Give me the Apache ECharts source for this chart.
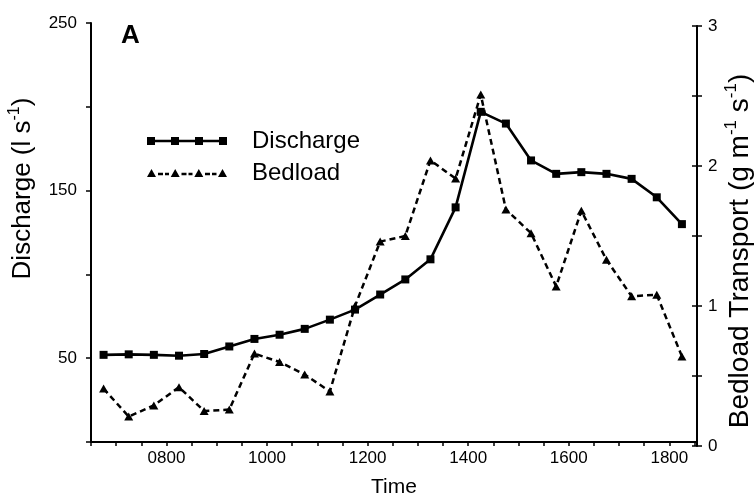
<!DOCTYPE html>
<html><head><meta charset="utf-8">
<script src="https://cdn.jsdelivr.net/npm/echarts@6/dist/echarts.min.js"></script>
<style>html,body{margin:0;padding:0;background:#fff}#c{width:756px;height:499px}</style>
</head><body><div id="c"></div>
<script>
const times = ['0645','0715','0745','0815','0845','0915','0945','1015','1045','1115','1145','1215',
               '1245','1315','1345','1415','1445','1515','1545','1615','1645','1715','1745','1815'];
const discharge = [52, 52.3, 52, 51.5, 52.5, 57, 61.5, 64, 67.5, 73, 79, 88,
                   97, 109, 140, 197, 190, 168, 160, 161, 160, 157, 146, 130];
const bedload = [0.41, 0.21, 0.29, 0.42, 0.25, 0.26, 0.66, 0.60, 0.51, 0.39, 1.00, 1.46,
                 1.50, 2.04, 1.91, 2.51, 1.69, 1.52, 1.14, 1.68, 1.33, 1.07, 1.08, 0.64];
const xTickLabels = ['0800','1000','1200','1400','1600','1800'];
const leftTickLabels = ['50','150','250'];
const rightTickLabels = ['0','1','2','3'];

const FONT = '"Liberation Sans", Arial, Helvetica, sans-serif';
function toHours(t){ return parseInt(t.slice(0,2),10) + parseInt(t.slice(2),10)/60; }
function hhmm(v){ const h=Math.floor(v+1e-6), m=Math.round((v-h)*60); return String(h).padStart(2,'0')+String(m).padStart(2,'0'); }

const dischargeIcon = 'path://M0,2.75H80V5.25H0Z M0,0H8V8H0Z M24,0H32V8H24Z M48,0H56V8H48Z M72,0H80V8H72Z';
const bedloadIcon = 'path://M0,8L4.5,0L9,8Z M23.7,8L28.2,0L32.7,8Z M47.3,8L51.8,0L56.3,8Z M71,8L75.5,0L80,8Z ' +
  'M11,3.75H16V6.25H11Z M18,3.75H22V6.25H18Z M34.5,3.75H39.5V6.25H34.5Z M41.5,3.75H45.5V6.25H41.5Z M58,3.75H63V6.25H58Z M65,3.75H69.5V6.25H65Z';

const chart = echarts.init(document.getElementById('c'), null, {renderer:'canvas'});
const xMin = 6.5, xMax = 18.55;
const axisCommon = {
  axisLine:{show:true, lineStyle:{color:'#000', width:2}},
  splitLine:{show:false},
  nameMoveOverlap:false
};
chart.setOption({
  animation:false,
  backgroundColor:'#fff',
  textStyle:{fontFamily:FONT, color:'#000'},
  grid:[
    {left:91, right:59, top:23, bottom:57, outerBoundsMode:'none'},
    {left:91, right:59, top:26, bottom:53, outerBoundsMode:'none'}
  ],
  graphic:[{type:'text', left:121, top:23, style:{text:'A', font:'bold 26px ' + FONT, fill:'#000'}}],
  legend:[
    {data:[{name:'Discharge', icon:dischargeIcon}], left:147, top:129, padding:0, itemWidth:80, itemHeight:8,
     selectedMode:false, itemStyle:{borderWidth:0},
     textStyle:{fontSize:24, fontFamily:FONT, color:'#000', padding:[0,0,0,20]}},
    {data:[{name:'Bedload', icon:bedloadIcon}], left:147, top:161, padding:0, itemWidth:80, itemHeight:8,
     selectedMode:false, itemStyle:{borderWidth:0},
     textStyle:{fontSize:24, fontFamily:FONT, color:'#000', padding:[0,0,0,20]}}
  ],
  xAxis:[
    Object.assign({}, axisCommon, {
      type:'value', gridIndex:0, min:xMin, max:xMax, interval:0.5,
      name:'Time', nameLocation:'middle', nameGap:35,
      nameTextStyle:{fontSize:21, fontFamily:FONT, color:'#000'},
      axisTick:{show:true, length:4, lineStyle:{color:'#000', width:1.5}},
      axisLabel:{fontSize:17, fontFamily:FONT, color:'#000', margin:8, showMinLabel:true, showMaxLabel:true,
        formatter:v => { const s = hhmm(v); return xTickLabels.includes(s) ? s : ''; }}
    }),
    {type:'value', gridIndex:1, min:xMin, max:xMax, show:false}
  ],
  yAxis:[
    Object.assign({}, axisCommon, {
      type:'value', gridIndex:0, position:'left', min:0, max:250, interval:50,
      name:'Discharge (l s{sup|-1})', nameLocation:'middle', nameGap:52, nameRotate:90,
      nameTextStyle:{fontSize:26, fontFamily:FONT, color:'#000', padding:[0,0,0,88],
        rich:{sup:{fontSize:16, fontFamily:FONT, color:'#000', padding:[0,0,16,0]}}},
      axisTick:{show:true, length:5, lineStyle:{color:'#000', width:1.5}},
      axisLabel:{fontSize:17, fontFamily:FONT, color:'#000', margin:14,
        formatter:v => leftTickLabels.includes(String(v)) ? String(v) : ''}
    }),
    Object.assign({}, axisCommon, {
      type:'value', gridIndex:1, position:'right', min:0, max:3, interval:0.5,
      name:'Bedload Transport (g m{sup|-1} s{sup|-1})', nameLocation:'middle', nameGap:26, nameRotate:90,
      nameTextStyle:{fontSize:28, fontFamily:FONT, color:'#000', padding:[0,30,0,0],
        rich:{sup:{fontSize:17, fontFamily:FONT, color:'#000', padding:[0,0,17,0]}}},
      axisTick:{show:true, length:5, lineStyle:{color:'#000', width:1.5}},
      axisLabel:{fontSize:17, fontFamily:FONT, color:'#000', margin:11,
        formatter:v => rightTickLabels.includes(String(v)) ? String(v) : ''}
    }),
    {type:'value', gridIndex:1, position:'right', min:0, max:3, interval:0.5,
     axisLine:{show:false}, splitLine:{show:false}, axisLabel:{show:false},
     axisTick:{show:true, inside:true, length:5, lineStyle:{color:'#000', width:1.5}}}
  ],
  series:[
    {name:'Discharge', type:'line', xAxisIndex:0, yAxisIndex:0,
     data:times.map((t,i)=>[toHours(t), discharge[i]]),
     symbol:'rect', symbolSize:8, color:'#000',
     lineStyle:{color:'#000', width:2.6}, itemStyle:{color:'#000'}},
    {name:'Bedload', type:'line', xAxisIndex:1, yAxisIndex:1,
     data:times.map((t,i)=>[toHours(t), bedload[i]]),
     symbol:'triangle', symbolSize:[9,8], color:'#000',
     lineStyle:{color:'#000', width:2.5, type:[6,4]}, itemStyle:{color:'#000'}}
  ]
});
</script></body></html>
